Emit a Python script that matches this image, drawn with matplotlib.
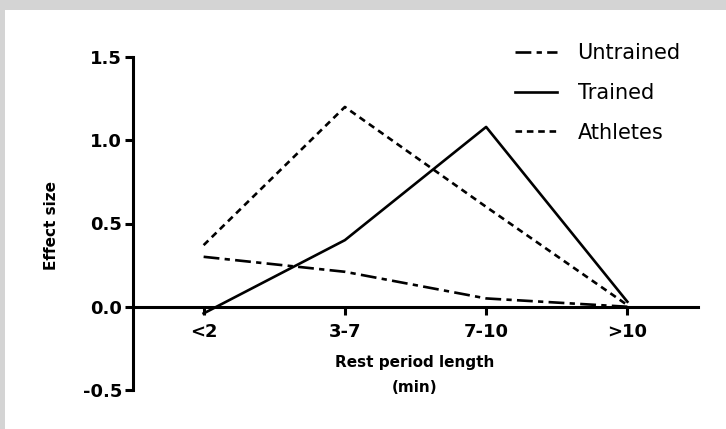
import matplotlib
matplotlib.use('Agg')
import matplotlib.pyplot as plt
from matplotlib.patches import Rectangle

categories = ['<2', '3-7', '7-10', '>10']
untrained = [0.30, 0.21, 0.05, 0.0]
trained = [-0.04, 0.40, 1.08, 0.03]
athletes = [0.37, 1.20, 0.60, 0.01]
y_ticks = [-0.5, 0.0, 0.5, 1.0, 1.5]

plt.rcParams['font.family'] = ['DejaVu Sans']

fig = plt.figure(figsize=(7.26, 4.29), dpi=100, facecolor='#d4d4d4')
# white panel inside the grey frame
fig.patches.append(Rectangle((5 / 726, 0), 1, 1 - 10 / 429, transform=fig.transFigure,
                             facecolor='white', edgecolor='none', zorder=-1))
ax = fig.add_axes([133 / 726, 39 / 429, (698 - 133) / 726, (390 - 57) / 429])
ax.set_facecolor('none')

for s in ['top', 'right']:
    ax.spines[s].set_visible(False)
ax.spines['left'].set_linewidth(2.2)
ax.spines['bottom'].set_linewidth(2.2)
ax.spines['bottom'].set_position(('data', 0))

x = list(range(len(categories)))
lw = 1.9
ax.plot(x, untrained, color='black', lw=lw, dashes=(6, 2, 2, 2), label='Untrained')
ax.plot(x, trained, color='black', lw=lw, label='Trained')
ax.plot(x, athletes, color='black', lw=lw, dashes=(2.5, 1.8), label='Athletes')

ax.set_xlim(-0.5, 3.5)
ax.set_ylim(-0.5, 1.5)
ax.set_yticks(y_ticks)
ax.set_yticklabels(['%.1f' % v for v in y_ticks], fontsize=13, fontweight='bold')
ax.set_xticks(x)
ax.set_xticklabels(categories, fontsize=13, fontweight='bold')
ax.tick_params(axis='both', width=2.2, length=6, direction='out', pad=2)
ax.tick_params(axis='x', pad=6)

fig.text(51 / 726, 1 - 225 / 429, 'Effect size', rotation=90, ha='center', va='center',
         fontsize=11, fontweight='bold')
fig.text((204 + 626) / 2 / 726, 1 - 363 / 429, 'Rest period length', ha='center', va='center',
         fontsize=11, fontweight='bold')
fig.text((204 + 626) / 2 / 726, 1 - 388 / 429, '(min)', ha='center', va='center',
         fontsize=11, fontweight='bold')

ax.legend(loc='upper left', bbox_to_anchor=(515 / 726, 1 - 43 / 429), bbox_transform=fig.transFigure,
          frameon=False, fontsize=15, borderpad=0, borderaxespad=0,
          handlelength=2.0, handletextpad=1.0, labelspacing=0.95)

fig.savefig('out.png', dpi=100, facecolor=fig.get_facecolor())
